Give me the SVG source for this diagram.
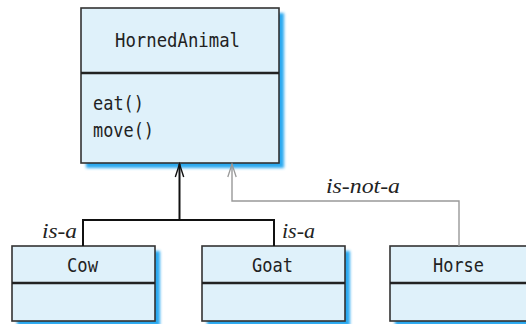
<svg xmlns="http://www.w3.org/2000/svg" width="526" height="324" viewBox="0 0 526 324">
<defs>
<filter id="sh" x="-20%" y="-20%" width="140%" height="140%">
<feGaussianBlur stdDeviation="1.8"/>
</filter>
</defs>
<style>
.shadow{fill:#2aa9f0;filter:url(#sh)}
.box{fill:#dff1fa;stroke:#333;stroke-width:1.6}
.div{stroke:#222;stroke-width:2.4}
.mono{font-family:"DejaVu Sans Mono","Liberation Mono",monospace;font-size:19px;fill:#222}
.lbl{font-family:"Liberation Serif",serif;font-style:italic;font-size:21px;fill:#222}
.conn{fill:none;stroke:#111;stroke-width:2}
.gray{fill:none;stroke:#999;stroke-width:1.4}
</style>
<g id="HornedAnimal">
<rect class="shadow" x="86" y="13" width="198" height="155"/>
<rect class="box" x="81" y="8" width="198" height="155"/>
<line class="div" x1="81" y1="73" x2="279" y2="73"/>
<text class="mono" x="115" y="47" textLength="125" lengthAdjust="spacingAndGlyphs">HornedAnimal</text>
<text class="mono" x="93" y="110" textLength="51" lengthAdjust="spacingAndGlyphs">eat()</text>
<text class="mono" x="93" y="137" textLength="61" lengthAdjust="spacingAndGlyphs">move()</text>
</g>
<g id="Cow">
<rect class="shadow" x="17" y="251" width="143" height="75"/>
<rect class="box" x="12" y="246" width="143" height="75"/>
<line class="div" x1="12" y1="283" x2="155" y2="283"/>
<text class="mono" x="67" y="272" textLength="31" lengthAdjust="spacingAndGlyphs">Cow</text>
</g>
<g id="Goat">
<rect class="shadow" x="207" y="251" width="143" height="75"/>
<rect class="box" x="202" y="246" width="143" height="75"/>
<line class="div" x1="202" y1="283" x2="345" y2="283"/>
<text class="mono" x="252" y="272" textLength="41" lengthAdjust="spacingAndGlyphs">Goat</text>
</g>
<g id="Horse">
<rect class="shadow" x="395" y="251" width="143" height="75"/>
<rect class="box" x="390" y="246" width="143" height="75"/>
<line class="div" x1="390" y1="283" x2="533" y2="283"/>
<text class="mono" x="433" y="272" textLength="51" lengthAdjust="spacingAndGlyphs">Horse</text>
</g>
<g id="connectors">
<path class="conn" d="M83,246 V220 H274 V246"/>
<line class="conn" x1="179.5" y1="220" x2="179.5" y2="164"/>
<path d="M175.3,177 L179.5,164 L183.7,177" fill="none" stroke="#111" stroke-width="1.4"/>
<path class="gray" d="M459,246 V201 H232 V164"/>
<path d="M227.8,177 L232,164 L236.2,177" fill="none" stroke="#999" stroke-width="1.3"/>
<text class="lbl" x="42" y="238" textLength="35" lengthAdjust="spacingAndGlyphs">is-a</text>
<text class="lbl" x="282" y="238" textLength="33" lengthAdjust="spacingAndGlyphs">is-a</text>
<text class="lbl" x="326" y="193" textLength="74" lengthAdjust="spacingAndGlyphs">is-not-a</text>
</g>
</svg>
